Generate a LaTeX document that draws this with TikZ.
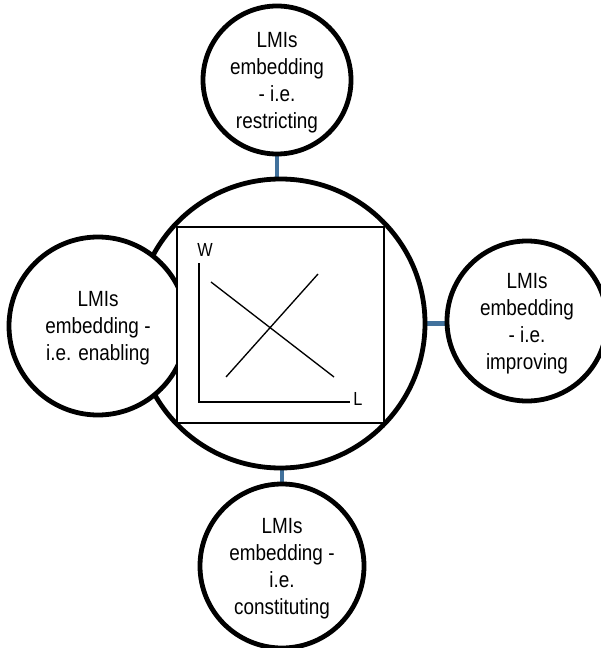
\documentclass[tikz,border=0pt]{standalone}
\usepackage{fontspec}
\setmainfont{Liberation Sans}[FakeStretch=0.86]
\usetikzlibrary{backgrounds}
\definecolor{LMIblue}{HTML}{41719C}

\begin{document}
\begin{tikzpicture}[x=0.75pt,y=-0.75pt,
  bubble/.style={circle,draw,line width=3.6pt,fill=white,inner sep=0pt,align=center,
    text depth=-1pt,font=\fontsize{16.5}{20.25}\selectfont},
  link/.style={LMIblue,line width=3.4pt},
  axis/.style={line width=1pt}]
\useasboundingbox (0,0) rectangle (600,648);
\node[bubble,minimum size=216.75pt] (hub) at (280.5,323.5) {};
\node[bubble,minimum size=111pt,text depth=-8.5pt] (restrict) at (277,80) {LMIs\\embedding\\- i.e.\\restricting};
\node[bubble,minimum size=120pt] (improve) at (527,321) {LMIs\\embedding\\- i.e.\\improving};
\node[bubble,minimum size=123pt] (constitute) at (282,566) {LMIs\\embedding -\\i.e.\\constituting};
\node[bubble,minimum size=133.5pt] (enable) at (98,326) {LMIs\\embedding -\\i.e. enabling};
% connectors
\begin{scope}[on background layer]
\draw[link] (restrict) -- (restrict |- hub.north);
\draw[link] (hub.east) -- (hub.east -| improve.west);
\draw[link] (constitute) -- (constitute |- hub.south);
\end{scope}
% labour market plot
\node[draw,line width=0.8pt,fill=white,minimum width=155.25pt,minimum height=147pt] (frame) at (280.5,325) {};
\draw[axis] (199,263) -- (199,402) -- (350,402);
\draw[axis] (211,282) -- (334,377);
\draw[axis] (226,377) -- (318,274);
\node[font=\fontsize{14.2}{16}\selectfont] (wage) at (205,250) {W};
\node[font=\fontsize{14.2}{16}\selectfont] (labour) at (358,399) {L};
\end{tikzpicture}
\end{document}
